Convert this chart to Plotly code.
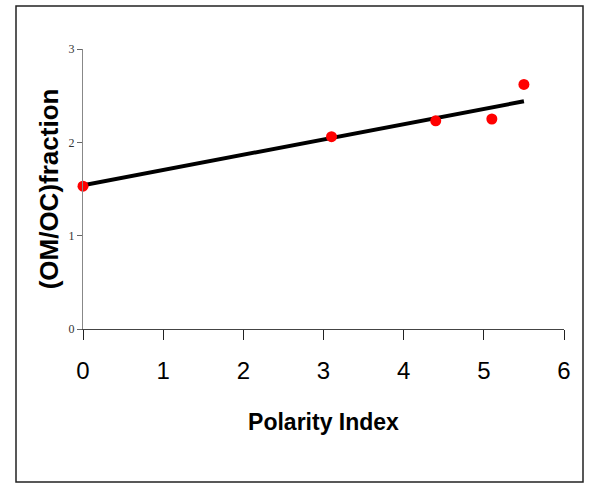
import plotly.graph_objects as go

# Data
polarity_index = [0.0, 3.1, 4.4, 5.1, 5.5]
om_oc_fraction = [1.53, 2.06, 2.23, 2.25, 2.62]

# Trend line (linear fit drawn in the reference)
trend_x = [0.0, 5.5]
trend_y = [1.54, 2.44]

x_ticks = [0, 1, 2, 3, 4, 5, 6]
y_ticks = [0, 1, 2, 3]

fig = go.Figure()

fig.add_trace(go.Scatter(
    x=trend_x, y=trend_y, mode="lines",
    line=dict(color="black", width=4),
    hoverinfo="skip", showlegend=False, cliponaxis=False,
))

fig.add_trace(go.Scatter(
    x=polarity_index, y=om_oc_fraction, mode="markers",
    marker=dict(color="#FF0000", size=11, line=dict(width=0)),
    showlegend=False, cliponaxis=False,
))

# outer frame
fig.add_shape(type="rect", xref="paper", yref="paper",
              x0=(16 - 83) / 481, x1=(583 - 83) / 481,
              y0=(329 - 482) / 280, y1=(329 - 6) / 280,
              line=dict(color="#222222", width=1.5), layer="below")

fig.update_layout(
    width=590, height=484,
    margin=dict(l=83, r=26, t=49, b=155),
    paper_bgcolor="white", plot_bgcolor="white",
    xaxis=dict(
        range=[0, 6], tickvals=x_ticks, ticktext=[str(v) for v in x_ticks],
        showgrid=False, zeroline=False,
        showline=True, linecolor="#444444", linewidth=1,
        ticks="outside", ticklen=10, tickcolor="#222222", tickwidth=1,
        ticklabelstandoff=10,
        tickfont=dict(family="Liberation Sans Narrow, Arial Narrow, Liberation Sans", size=24, color="black"),
        title=dict(text="<b>Polarity Index</b>", standoff=31,
                   font=dict(family="Liberation Sans Narrow, Arial Narrow, Liberation Sans", size=23, color="black")),
    ),
    yaxis=dict(
        range=[0, 3], tickvals=y_ticks, ticktext=[str(v) for v in y_ticks],
        showgrid=False, zeroline=False,
        showline=True, linecolor="#888888", linewidth=1,
        ticks="outside", ticklen=5, tickcolor="#666666", tickwidth=1,
        tickfont=dict(family="Liberation Serif, Times New Roman", size=12, color="#333333"),
        title=dict(text="<b>(OM/OC)fraction</b>", standoff=2,
                   font=dict(family="Liberation Sans, Arial", size=26, color="black")),
    ),
)

fig.write_html("out.html")
